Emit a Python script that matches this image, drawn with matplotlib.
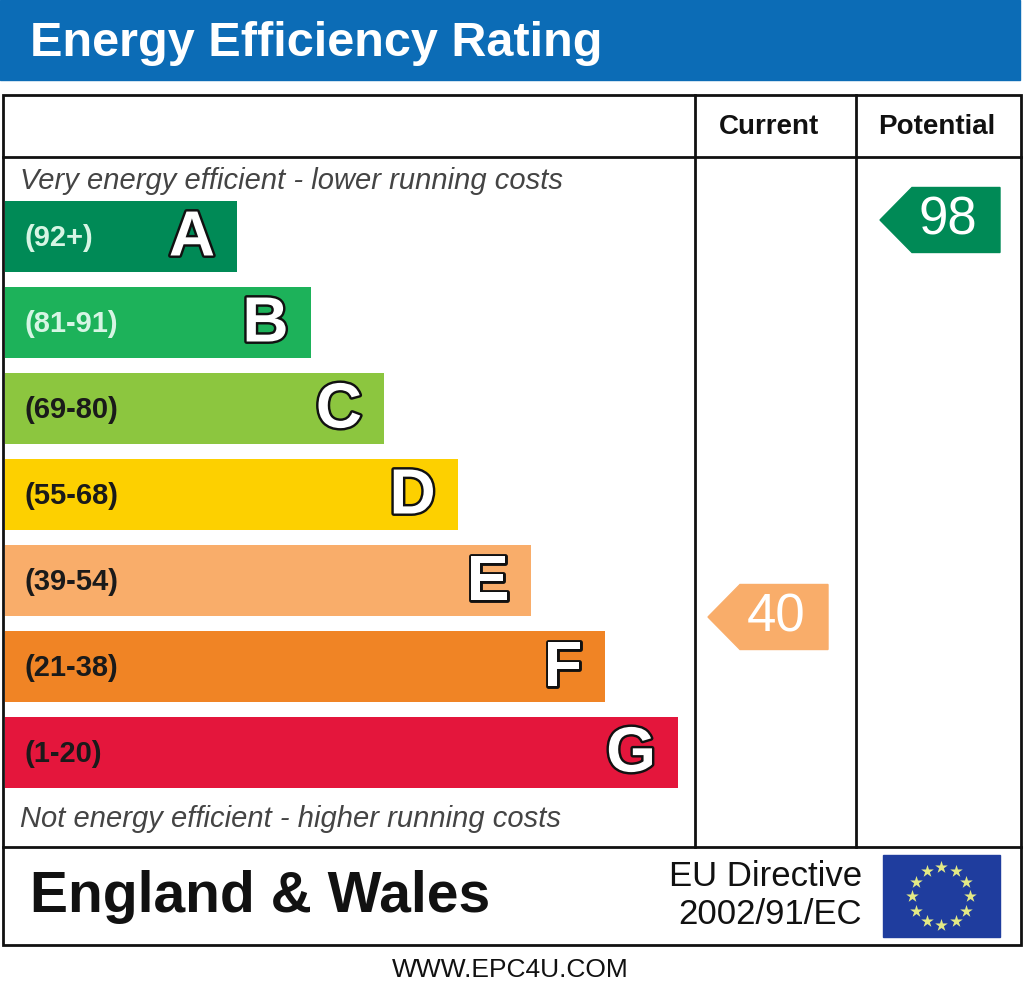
import numpy as np
import matplotlib
matplotlib.use('Agg')
import matplotlib.pyplot as plt
from matplotlib.patches import Rectangle, Polygon
import matplotlib.patheffects as pe

# data
bands = ['A', 'B', 'C', 'D', 'E', 'F', 'G']
ranges = ['(92+)', '(81-91)', '(69-80)', '(55-68)', '(39-54)', '(21-38)', '(1-20)']
lower = [92, 81, 69, 55, 39, 21, 1]
colours = ['#008a56', '#1db25a', '#8cc63f', '#fdd000', '#f9ad6a', '#f08425', '#e4163c']
range_colours = ['#d6f5e4', '#d6f5e4', '#1a1a1a', '#1a1a1a', '#1a1a1a', '#1a1a1a', '#1a1a1a']
current = 40
potential = 98

title = 'Energy Efficiency Rating'
col_titles = ['Current', 'Potential']
top_note = 'Very energy efficient - lower running costs'
bottom_note = 'Not energy efficient - higher running costs'
region = 'England & Wales'
directive = ['EU Directive', '2002/91/EC']
website = 'WWW.EPC4U.COM'

SANS = ['Liberation Sans', 'DejaVu Sans']

W, H = 1024, 993
fig = plt.figure(figsize=(W / 100, H / 100), dpi=100)
ax = fig.add_axes([0, 0, 1, 1])
ax.set_xlim(0, W)
ax.set_ylim(H, 0)
ax.axis('off')

# header band
ax.add_patch(Rectangle((0, 0), 1020, 80, color='#0c6cb6', zorder=1))
ax.text(30, 44, title, color='white', fontsize=35, fontweight='bold',
        family=SANS, va='center', ha='left', zorder=2)

# table frame
lw = 2.0
x0, x1 = 3, 1021
y0, y1 = 95, 945
col1, col2 = 695, 856
head_y, foot_y = 157, 847
ax.add_patch(Rectangle((x0, y0), x1 - x0, y1 - y0, fill=False, ec='#111111', lw=lw, zorder=3))
ax.plot([x0, x1], [head_y, head_y], color='#111111', lw=lw, zorder=3)
ax.plot([x0, x1], [foot_y, foot_y], color='#111111', lw=lw, zorder=3)
ax.plot([col1, col1], [y0, foot_y], color='#111111', lw=lw, zorder=3)
ax.plot([col2, col2], [y0, foot_y], color='#111111', lw=lw, zorder=3)

ax.text((col1 + col2) / 2 - 7, 127, col_titles[0], fontsize=20, fontweight='bold',
        family=SANS, ha='center', va='center', color='#111111')
ax.text((col2 + x1) / 2 - 2, 127, col_titles[1], fontsize=20, fontweight='bold',
        family=SANS, ha='center', va='center', color='#111111')

ax.text(20, 181, top_note, fontsize=21, style='italic', family=SANS,
        color='#444444', ha='left', va='center')
ax.text(20, 819, bottom_note, fontsize=21, style='italic', family=SANS,
        color='#444444', ha='left', va='center')

# rating bars
idx = np.arange(len(bands))
centres = 236.5 + idx * 86
widths = 232 + idx * 73.5
ax.barh(centres, widths, height=71, left=5, color=colours, zorder=2)
for i in idx:
    ax.text(24, centres[i] + 1, ranges[i], fontsize=21, fontweight='bold',
            family=SANS, color=range_colours[i], ha='left', va='center', zorder=4)
    ax.text(5 + widths[i] - 22, centres[i] + 2, bands[i], fontsize=46, fontweight='bold',
            family=SANS, color='white', ha='right', va='center', zorder=4,
            path_effects=[pe.withStroke(linewidth=3.5, foreground='#111111')])


def band_of(score):
    for b, lo in enumerate(lower):
        if score >= lo:
            return b
    return len(bands) - 1


def score_y(score):
    return 206.3 + (100 - score) * 6.845


def arrow(left, right, score):
    yc = score_y(score)
    h = 32.5
    tip = 32
    verts = [(left, yc), (left + tip, yc - h), (right, yc - h), (right, yc + h), (left + tip, yc + h)]
    ax.add_patch(Polygon(verts, closed=True, color=colours[band_of(score)], zorder=4))
    ax.text((left + right) / 2 + 8, yc + 1, str(score), fontsize=38, color='white',
            family=SANS, ha='center', va='center', zorder=5)


arrow(col1 + 13, col1 + 133, current)
arrow(col2 + 24, col2 + 144, potential)

# footer
ax.text(30, 897, region, fontsize=41, fontweight='bold', family=SANS,
        color='#111111', ha='left', va='center')
ax.text(862, 877, directive[0], fontsize=25, family=SANS, color='#111111',
        ha='right', va='center')
ax.text(862, 915, directive[1], fontsize=25, family=SANS, color='#111111',
        ha='right', va='center')

# EU flag
ax.add_patch(Rectangle((883, 855), 117, 82, color='#1f3d9e', zorder=3))
ang = np.linspace(0, 2 * np.pi, 12, endpoint=False)
ax.scatter(941 + 29 * np.cos(ang), 896 + 29 * np.sin(ang), marker='*', s=90,
           color='#e3ea86', zorder=4, linewidths=0)

ax.text(510, 970, website, fontsize=19, family=SANS, color='#111111',
        ha='center', va='center')

fig.savefig('out.png', dpi=100)
